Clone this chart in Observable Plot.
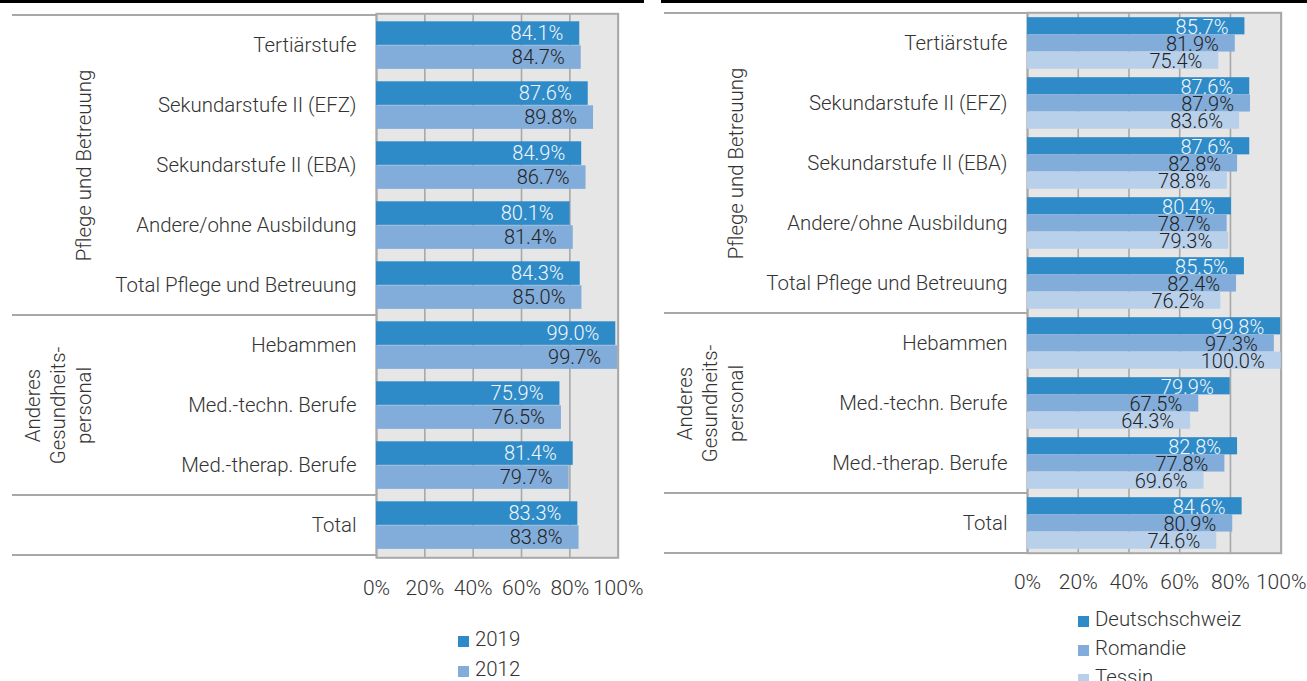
<!DOCTYPE html>
<html>
<head>
<meta charset="utf-8">
<script src="https://cdn.jsdelivr.net/npm/d3@7"></script>
<script src="https://cdn.jsdelivr.net/npm/@observablehq/plot@0.6"></script>
<style>
  html, body { margin: 0; padding: 0; background: #fff; }
  #root { position: relative; width: 1307px; height: 681px; overflow: hidden; font-family: Roboto, sans-serif; font-weight: 300; color: #333; }
  .topbar { position: absolute; top: 0; height: 3px; background: #000; }
  .panel { position: absolute; top: 0; }
  .legend { position: absolute; font-size: 20.4px; }
  .legend .item { position: absolute; white-space: nowrap; height: 24px; line-height: 24px; }
  .legend .sw { display: inline-block; width: 11px; height: 11px; margin-right: 6px; vertical-align: -1px; }
  svg text { font-family: Roboto, sans-serif; font-weight: 300; }
</style>
</head>
<body>
<div id="root">
  <div class="topbar" style="left:0;width:644px"></div>
  <div class="topbar" style="left:661px;width:646px"></div>
  <div class="panel" id="left" style="left:0"></div>
  <div class="panel" id="right" style="left:652px"></div>
  <div class="legend" id="legLeft" style="left:458px;top:0"></div>
  <div class="legend" id="legRight" style="left:1078px;top:0"></div>
</div>
<script>
// ---------- data ----------
const categories = ["Tertiärstufe","Sekundarstufe II (EFZ)","Sekundarstufe II (EBA)","Andere/ohne Ausbildung","Total Pflege und Betreuung","Hebammen","Med.-techn. Berufe","Med.-therap. Berufe","Total"];
const groupOf = ["Pflege und Betreuung","Pflege und Betreuung","Pflege und Betreuung","Pflege und Betreuung","Pflege und Betreuung","Anderes\nGesundheits-\npersonal","Anderes\nGesundheits-\npersonal","Anderes\nGesundheits-\npersonal",""];
const xTicks = [0,20,40,60,80,100];

const yearSeries = ["2019","2012"];
const values2019 = [84.1,87.6,84.9,80.1,84.3,99.0,75.9,81.4,83.3];
const values2012 = [84.7,89.8,86.7,81.4,85.0,99.7,76.5,79.7,83.8];

const regionSeries = ["Deutschschweiz","Romandie","Tessin"];
const valuesDeutschschweiz = [85.7,87.6,87.6,80.4,85.5,99.8,79.9,82.8,84.6];
const valuesRomandie = [81.9,87.9,82.8,78.7,82.4,97.3,67.5,77.8,80.9];
const valuesTessin = [75.4,83.6,78.8,79.3,76.2,100.0,64.3,69.6,74.6];

const colors = ["#2e8bc8","#82acd9","#b9d0eb"];
const labelColors = ["#f4f7fb","#222","#222"];
const FS = 20.4;

// ---------- helpers ----------
function groupsData() {
  const out = [];
  let start = 0;
  for (let i = 1; i <= categories.length; i++) {
    if (i === categories.length || groupOf[i] !== groupOf[start]) {
      const mid = Math.floor((start + i - 1) / 2);
      if (groupOf[start]) out.push({label: groupOf[start], mid: categories[mid]});
      start = i;
    }
  }
  return out;
}
function boundaries() {
  const b = [0];
  for (let i = 1; i < categories.length; i++) if (groupOf[i] !== groupOf[i-1]) b.push(i);
  return b;
}

function makePanel(opts) {
  const {width, height, marginLeft, marginRight, marginTop, marginBottom, series, valueArrays, barOffset, barHeight, tickPadding, textDy} = opts;
  const bw = (height - marginTop - marginBottom) / categories.length;
  const marks = [
    Plot.frame({fill: "#e6e6e6"}),
    Plot.ruleX(xTicks, {stroke: "#a8a8a8", strokeWidth: 1.6}),
    Plot.frame({stroke: "#a8a8a8", strokeWidth: 2})
  ];
  series.forEach((s, k) => {
    const rows = categories.map((c, i) => ({cat: c, v: valueArrays[k][i]}));
    const top = barOffset + barHeight * k;
    marks.push(Plot.barX(rows, {
      x: "v", y: "cat", fill: colors[k],
      insetTop: top, insetBottom: bw - top - barHeight
    }));
  });
  series.forEach((s, k) => {
    const rows = categories.map((c, i) => ({cat: c, v: valueArrays[k][i]}));
    const center = barOffset + barHeight * k + barHeight / 2;
    marks.push(Plot.text(rows, {
      x: "v", y: "cat", text: d => d.v.toFixed(1) + "%",
      textAnchor: "end", dx: -16.5, dy: center - bw / 2 + textDy,
      fill: labelColors[k], fontSize: 20, fontWeight: 300
    }));
  });
  const lh = 25.5;
  groupsData().forEach(g => {
    const n = g.label.split("\n").length;
    const cx = 82 - (n - 1) * lh / 2;
    marks.push(Plot.text([g], {
      y: "mid", text: "label", frameAnchor: "left", dx: cx - marginLeft,
      textAnchor: "middle", lineAnchor: "middle",
      rotate: -90, fontSize: FS, fontWeight: 300, lineHeight: lh / FS, fill: "#333"
    }));
  });
  marks.push(Plot.axisY({tickSize: 0, tickPadding: 20, fontSize: FS, label: null}));
  marks.push(Plot.axisX({ticks: xTicks, tickSize: 0, tickPadding, fontSize: 21, tickFormat: d => d + "%", label: null}));
  const plot = Plot.plot({
    width, height, marginLeft, marginRight, marginTop, marginBottom,
    x: {domain: [0, 100]},
    y: {domain: categories, padding: 0},
    style: {fontFamily: "Roboto, sans-serif", fontWeight: 300, color: "#333", background: "transparent", overflow: "visible"},
    marks
  });
  // group separator lines in label area
  const y = plot.scale("y");
  const svg = d3.select(plot);
  const ys = boundaries().map(i => y.apply(categories[i]));
  ys.push(y.apply(categories[categories.length - 1]) + y.bandwidth);
  svg.append("g").selectAll("line").data(ys).join("line")
    .attr("x1", 12).attr("x2", marginLeft).attr("y1", d => d).attr("y2", d => d)
    .attr("stroke", "#a8a8a8").attr("stroke-width", 2);
  return plot;
}

document.getElementById("left").append(makePanel({
  width: 653, height: 600, marginLeft: 376, marginRight: 35.3, marginTop: 13.3, marginBottom: 42.7,
  series: yearSeries, valueArrays: [values2019, values2012],
  barOffset: 6.3, barHeight: 24, tickPadding: 22, textDy: 0.5
}));
document.getElementById("right").append(makePanel({
  width: 655, height: 600, marginLeft: 375, marginRight: 26.3, marginTop: 12.3, marginBottom: 47.3,
  series: regionSeries, valueArrays: [valuesDeutschschweiz, valuesRomandie, valuesTessin],
  barOffset: 4.2, barHeight: 17.2, tickPadding: 21, textDy: 1
}));

function legend(el, names, centers) {
  names.forEach((n, k) => {
    const d = document.createElement("div");
    d.className = "item";
    d.style.top = (centers[k] - 12) + "px";
    d.innerHTML = `<span class="sw" style="background:${colors[k]}"></span>`;
    d.append(document.createTextNode(n));
    el.append(d);
  });
}
legend(document.getElementById("legLeft"), yearSeries, [639, 669]);
legend(document.getElementById("legRight"), regionSeries, [619, 648, 677]);
</script>
</body>
</html>
